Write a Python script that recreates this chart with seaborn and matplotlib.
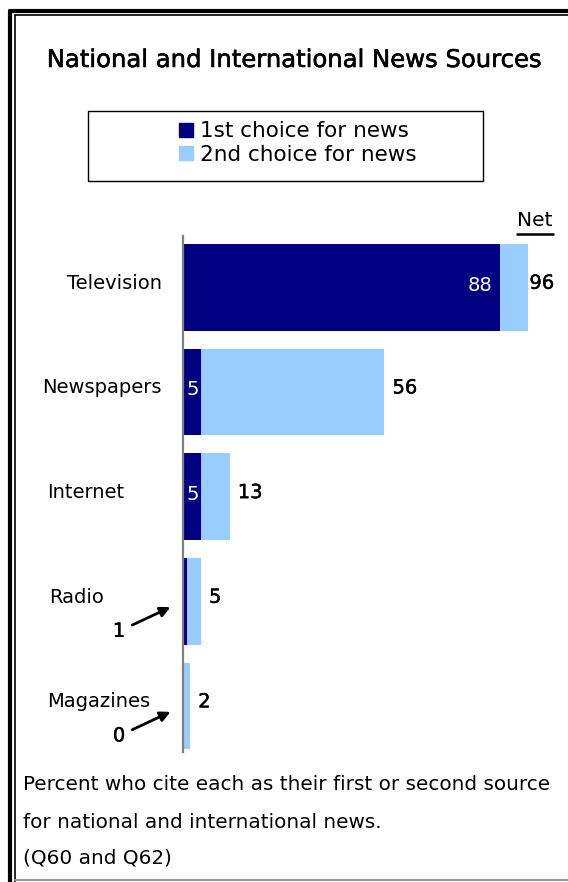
import matplotlib
matplotlib.use("Agg")
import matplotlib.pyplot as plt
import matplotlib.transforms as mtransforms
import matplotlib.patheffects as pe
from matplotlib.patches import Rectangle
from matplotlib.lines import Line2D
import pandas as pd
import seaborn as sns

# chart data
categories = ["Television", "Newspapers", "Internet", "Radio", "Magazines"]
first_choice = [88, 5, 5, 1, 0]
net_choice = [96, 56, 13, 5, 2]

title = "National and International News Sources"
legend_labels = ["1st choice for news", "2nd choice for news"]
footer_lines = [
    "Percent who cite each as their first or second source",
    "for national and international news.",
    "(Q60 and Q62)",
]

dark = "#000080"
light = "#99CCFF"

W, H = 568, 882

sns.set_theme(style="white")
plt.rcParams["font.family"] = ["DejaVu Sans"]
plt.rcParams["text.color"] = "black"

df = pd.DataFrame({"Source": categories, "First": first_choice, "Net": net_choice})

fig = plt.figure(figsize=(W / 100, H / 100), dpi=100)

# slightly heavier strokes, the original text looks a bit thick
heavy = [pe.withStroke(linewidth=0.3, foreground="black")]


def fx(px):
    return px / W


def fy(py):
    return 1 - py / H


# axes placed in pixel terms of the reference
ax = fig.add_axes([fx(183), fy(752), fx(568) - fx(183), fy(236) - fy(752)])

sns.barplot(data=df, x="Net", y="Source", color=light, saturation=1,
            width=0.83, linewidth=0, ax=ax)
sns.barplot(data=df, x="First", y="Source", color=dark, saturation=1,
            width=0.83, linewidth=0, ax=ax)

ax.set_xlim(0, 107)
ax.set_ylim(4.44, -0.49)
ax.set_xlabel("")
ax.set_ylabel("")
ax.set_xticks([])
ax.set_yticks([])
for s in ["top", "right", "bottom"]:
    ax.spines[s].set_visible(False)
ax.spines["left"].set_color("#808080")
ax.spines["left"].set_linewidth(1.6)

# category labels (x in figure, y in data)
blend = mtransforms.blended_transform_factory(fig.transFigure, ax.transData)
label_pos = [(162, "right"), (162, "right"), (47, "left"), (49, "left"), (47, "left")]
for i, name in enumerate(categories):
    x, ha = label_pos[i]
    ax.text(fx(x), i - 0.04, name, transform=blend, ha=ha, va="center",
            fontsize=14, clip_on=False)

# values inside the dark bars, arrows for the tiny ones
for i, v in enumerate(first_choice):
    if v >= 5:
        if v > 20:
            ax.annotate(str(v), xy=(v, i), xytext=(-7, 2), textcoords="offset pixels",
                        ha="right", va="center", color="white", fontsize=14)
        else:
            ax.annotate(str(v), xy=(0, i), xytext=(3, 2), textcoords="offset pixels",
                        ha="left", va="center", color="white", fontsize=14)
    else:
        ax.annotate(str(v), xy=(0, i), xytext=(-64, -30), textcoords="offset pixels",
                    ha="center", va="center", fontsize=14, path_effects=heavy,
                    annotation_clip=False,
                    arrowprops=dict(arrowstyle="-|>", color="black", lw=2,
                                    shrinkA=3, shrinkB=10, mutation_scale=15))

# net values
for i, v in enumerate(net_choice):
    off = 1 if v > 90 else 8
    ax.annotate(str(v), xy=(v, i), xytext=(off, 4), textcoords="offset pixels",
                ha="left", va="center", fontsize=14, path_effects=heavy,
                annotation_clip=False)

fig.text(fx(535), fy(221), "Net", ha="center", va="center", fontsize=14.5)
fig.add_artist(Line2D([fx(517), fx(553)], [fy(234), fy(234)], color="black", lw=1.8))

# title
fig.text(fx(294), fy(60), title, ha="center", va="center", fontsize=17.5,
         path_effects=[pe.withStroke(linewidth=0.4, foreground="black")])

# legend box
fig.add_artist(Rectangle((fx(88), fy(181)), fx(483) - fx(88), fy(111) - fy(181),
                         transform=fig.transFigure, fill=False, edgecolor="black", lw=1))
handles = [Rectangle((0, 0), 1, 1, color=dark), Rectangle((0, 0), 1, 1, color=light)]
fig.legend(handles, legend_labels, loc="center", bbox_to_anchor=(fx(298), fy(143)),
           frameon=False, fontsize=15.5, handlelength=0.65, handleheight=0.65,
           handletextpad=0.3, labelspacing=0.15, borderpad=0)

# footer
for line, y in zip(footer_lines, [785, 822, 858]):
    fig.text(fx(23), fy(y), line, ha="left", va="center", fontsize=14.4)

# double border on the left and top, grey rule at the bottom
fig.add_artist(Line2D([fx(10), fx(10)], [fy(11), 0], color="black", lw=3))
fig.add_artist(Line2D([fx(10), 1], [fy(11), fy(11)], color="black", lw=3))
fig.add_artist(Line2D([fx(15), fx(15)], [fy(15), 0], color="black", lw=1.2))
fig.add_artist(Line2D([fx(15), 1], [fy(15), fy(15)], color="black", lw=1.2))
fig.add_artist(Line2D([fx(15), 1], [fy(880), fy(880)], color="#999999", lw=1.5))

fig.savefig("out.png", dpi=100)
